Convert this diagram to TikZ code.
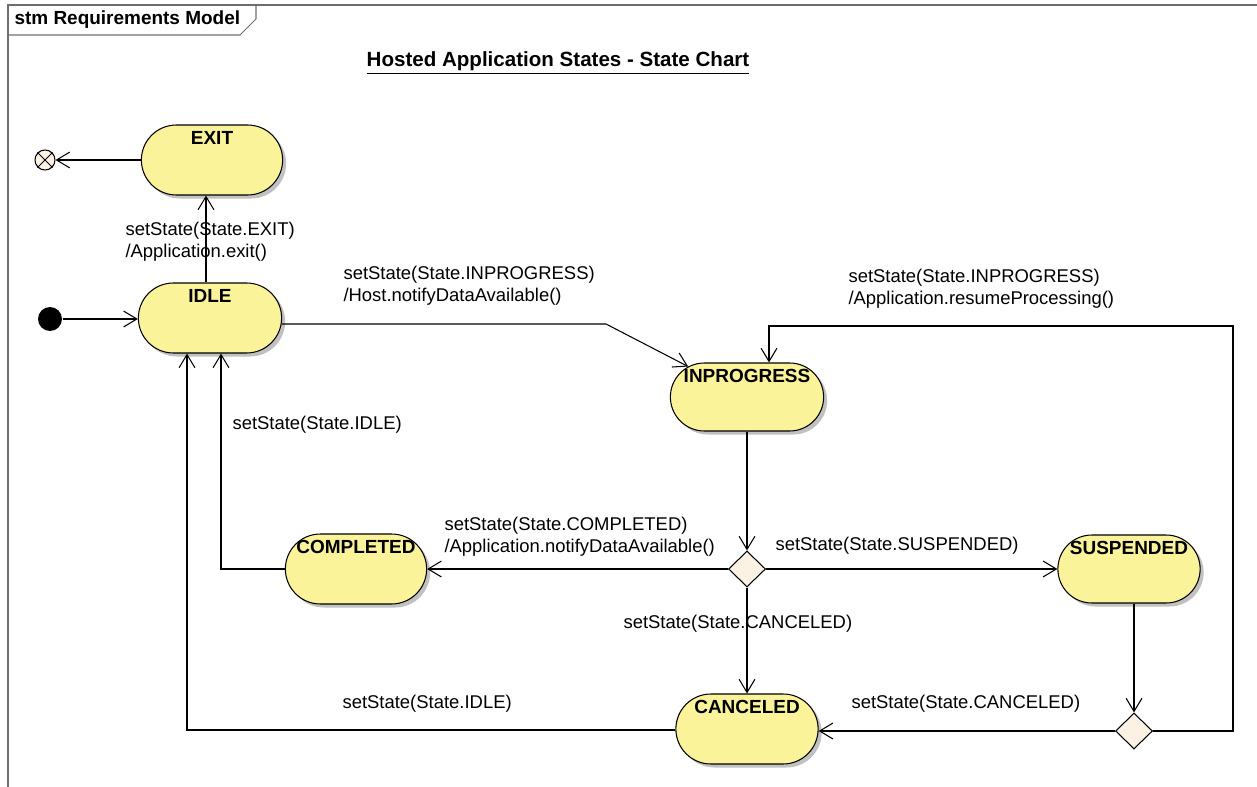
\documentclass[tikz,border=0pt]{standalone}
\usepackage{fontspec}
\setmainfont{Liberation Sans}
\usetikzlibrary{arrows.meta,shapes.misc,shapes.geometric,shadows,positioning}
\definecolor{statefill}{RGB}{251,243,154}
\definecolor{pseudofill}{RGB}{252,242,228}
\definecolor{framegray}{RGB}{110,110,110}

\begin{document}
\begin{tikzpicture}[x=0.02cm,y=-0.02cm,line width=0.6pt,
	state/.style={rounded rectangle,draw,fill=statefill,minimum width=3.06cm,minimum height=1.4cm,
		drop shadow={shadow xshift=2pt,shadow yshift=-2pt,fill=black!35,opacity=0.7}},
	statename/.style={anchor=north,yshift=-1.5pt,inner sep=2pt,font=\fontsize{10.8}{12.5}\selectfont\bfseries},
	choice/.style={diamond,draw,fill=pseudofill,aspect=1,inner sep=0pt,minimum width=0.74cm,minimum height=0.72cm},
	trans/.style={-{Straight Barb[length=7.5pt,width=9pt]}},
	guard/.style={inner sep=0pt,anchor=west,align=left,font=\fontsize{10.5}{12.5}\selectfont}]
					\useasboundingbox (0,0) rectangle (1257,787);
					%FRAME
					\draw[framegray] (8,787) -- (8,5) -- (1257,5);
					\draw[framegray] (8,35) -- (240,35) -- (256,19) -- (256,5);
					\node[anchor=west,inner sep=0pt,font=\fontsize{10.8}{13}\selectfont\bfseries] (frametitle) at (14,20) {stm Requirements Model};
					\node[font=\fontsize{11.7}{13}\selectfont\bfseries] (title) at (558,63) {\underline{Hosted Application States - State Chart}};
					%STATES
					\node[state,label={[statename]north:EXIT}] (EXIT) at (212,160) {};
					\node[state,minimum width=3.1cm,label={[statename]north:IDLE}] (IDLE) at (210,318) {};
					\node[state,minimum width=3.3cm,minimum height=1.36cm,label={[statename]north:INPROGRESS}] (INPROGRESS) at (747,397) {};
					\node[state,label={[statename]north:COMPLETED}] (COMPLETED) at (356,569) {};
					\node[state,minimum width=3.08cm,minimum height=1.36cm,label={[statename]north:SUSPENDED}] (SUSPENDED) at (1129,569) {};
					\node[state,minimum width=3.08cm,label={[statename]north:CANCELED}] (CANCELED) at (747,729) {};
					%PSEUDO STATES
					\node[circle,fill=black,minimum size=0.48cm,inner sep=0pt] (init) at (50,319) {};
					\node[circle,draw,fill=pseudofill,minimum size=0.4cm,inner sep=0pt] (fin) at (45,160) {};
					\draw (fin.north west) -- (fin.south east) (fin.north east) -- (fin.south west);
					\node[choice] (d1) at (747,569) {};
					\node[choice] (d2) at (1134,731) {};
					%BENDS
					\coordinate (up) at (206,0);
					\coordinate (k1) at (606,324);
					\coordinate (k2) at (221,569);
					\coordinate (k3) at (187,730);
					\coordinate (k4) at (1233,326);
					\coordinate (k5) at (769,326);
					%TRANSITIONS
					\draw[trans] (EXIT) -- (fin);
					\draw[trans] (IDLE.north -| up) -- (EXIT.south -| up);
					\draw[trans] (init) -- (init -| IDLE.west);
					\draw[trans] (IDLE.east |- k1) -- (k1) -- (INPROGRESS);
					\draw[trans] (INPROGRESS) -- (d1);
					\draw[trans] (d1) -- (d1 -| COMPLETED.east);
					\draw[trans] (d1) -- (d1 -| SUSPENDED.west);
					\draw[trans] (d1) -- (d1 |- CANCELED.north);
					\draw[trans] (COMPLETED.west) -- (k2) -- (k2 |- IDLE.south);
					\draw[trans] (CANCELED.west |- k3) -- (k3) -- (k3 |- IDLE.south);
					\draw[trans] (SUSPENDED.south -| d2) -- (d2);
					\draw[trans] (d2) -- (d2 -| CANCELED.east);
					\draw[trans] (d2.east) -- (d2.east -| k4) -- (k4) -- (k5) -- (k5 |- INPROGRESS.north);
					%GUARDS
					\node[guard] (gexit) at (125,242) {setState(State.EXIT)\\/Application.exit()};
					\node[guard] (gstart) at (343,286) {setState(State.INPROGRESS)\\/Host.notifyDataAvailable()};
					\node[guard] (gresume) at (848,289) {setState(State.INPROGRESS)\\/Application.resumeProcessing()};
					\node[guard] (gidle1) at (232,425) {setState(State.IDLE)};
					\node[guard] (gcomp) at (444,537) {setState(State.COMPLETED)\\/Application.notifyDataAvailable()};
					\node[guard] (gsusp) at (775,546) {setState(State.SUSPENDED)};
					\node[guard] (gcanc1) at (623,624) {setState(State.CANCELED)};
					\node[guard] (gidle2) at (342,704) {setState(State.IDLE)};
					\node[guard] (gcanc2) at (851,704) {setState(State.CANCELED)};
	  \end{tikzpicture}
\end{document}
